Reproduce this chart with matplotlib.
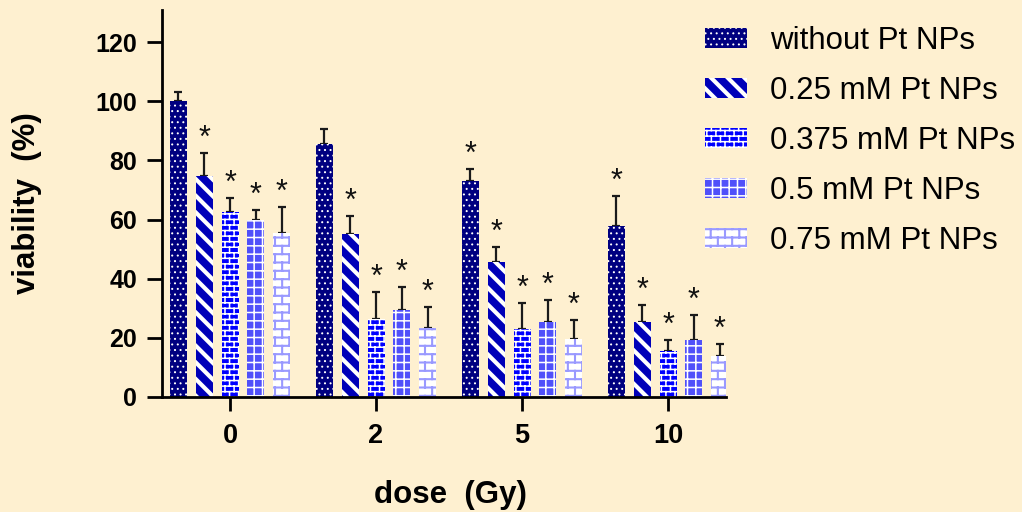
import numpy as np
import matplotlib
matplotlib.use("Agg")
import matplotlib.pyplot as plt
import matplotlib.hatch as mhatch
from matplotlib.path import Path

# ---------------- data ----------------
doses = ["0", "2", "5", "10"]
series_names = ["without Pt NPs", "0.25 mM Pt NPs", "0.375 mM Pt NPs",
                "0.5 mM Pt NPs", "0.75 mM Pt NPs"]
without_vals = [100.0, 85.6, 73.2, 58.0]
without_err = [3.3, 5.1, 4.0, 9.9]
pt025_vals = [74.9, 55.1, 45.6, 25.5]
pt025_err = [7.5, 6.1, 5.1, 5.5]
pt0375_vals = [62.5, 26.3, 22.9, 15.6]
pt0375_err = [4.9, 9.3, 8.8, 3.7]
pt05_vals = [59.9, 29.4, 25.5, 19.3]
pt05_err = [3.4, 7.7, 7.2, 8.5]
pt075_vals = [55.4, 23.2, 19.6, 14.0]
pt075_err = [8.8, 7.1, 6.3, 4.0]
# significance marks (True = '*')
without_sig = [False, False, True, True]
pt025_sig = [True, True, True, True]
pt0375_sig = [True, True, True, True]
pt05_sig = [True, True, True, True]
pt075_sig = [True, True, True, True]

values = [without_vals, pt025_vals, pt0375_vals, pt05_vals, pt075_vals]
errors = [without_err, pt025_err, pt0375_err, pt05_err, pt075_err]
sigs = [without_sig, pt025_sig, pt0375_sig, pt05_sig, pt075_sig]


# ---------------- custom brick hatch (replaces 'O') ----------------
class BrickHatch(mhatch.HatchPatternBase):
    def __init__(self, hatch, density):
        n = hatch.count('O') * density
        self.segs = []
        if n > 0:
            m = max(1, int(round(n / 1.7)))
            ys = (np.arange(n) + 0.5) / n
            for y in ys:
                self.segs.append(((0.0, y), (1.0, y)))
            for k in range(n):
                off = 0.5 if k % 2 else 0.0
                y0 = ys[k]
                y1 = ys[k] + 1.0 / n
                for j in range(m):
                    x = ((j + off + 0.25) / m) % 1.0
                    if y1 <= 1.0:
                        self.segs.append(((x, y0), (x, y1)))
                    else:
                        self.segs.append(((x, y0), (x, 1.0)))
                        self.segs.append(((x, 0.0), (x, y1 - 1.0)))
        self.num_vertices = 2 * len(self.segs)

    def set_vertices_and_codes(self, vertices, codes):
        for i, (a, b) in enumerate(self.segs):
            vertices[2 * i] = a
            vertices[2 * i + 1] = b
            codes[2 * i] = Path.MOVETO
            codes[2 * i + 1] = Path.LINETO


mhatch._hatch_types = [BrickHatch if t is mhatch.LargeCircles else t
                       for t in mhatch._hatch_types]


def use_hatch_lw(artist, lw):
    """Give one patch its own hatch line width."""
    if hasattr(artist, "set_hatch_linewidth"):
        artist.set_hatch_linewidth(lw)
    orig = artist.draw

    def draw(renderer, _orig=orig, _lw=lw):
        with plt.rc_context({"hatch.linewidth": _lw}):
            _orig(renderer)
    artist.draw = draw


# ---------------- style ----------------
bg = "#FEF0D0"
face_colors = ["#000080", "#0000B8", "#0000FF", "#5050FA", "#FFFFFF"]
hatch_colors = ["#FFFFFF", "#FFFFFF", "#FFFFFF", "#FFFFFF", "#9999FF"]
hatches = ["...", "\\\\", "OOO", "++", "OO"]
hatch_lws = [0.7, 3.0, 1.1, 1.1, 1.5]

plt.rcParams["font.family"] = ["Liberation Sans", "DejaVu Sans"]
plt.rcParams["hatch.linewidth"] = 1.1

fig = plt.figure(figsize=(10.22, 5.12), dpi=100, facecolor=bg)
ax = fig.add_axes([162 / 1022, 1 - 397 / 512, (726 - 162) / 1022, (397 - 10) / 512])
ax.set_facecolor(bg)

x = np.arange(len(doses))
step = 0.1774
width = 0.116

for i in range(len(series_names)):
    xi = x + (i - 2) * step
    with plt.rc_context({"hatch.linewidth": hatch_lws[i]}):
        bars = ax.bar(xi, values[i], width=width, color=face_colors[i],
                      edgecolor=hatch_colors[i], linewidth=0, hatch=hatches[i],
                      label=series_names[i], zorder=2)
    for b in bars:
        use_hatch_lw(b, hatch_lws[i])
    ax.errorbar(xi, values[i], yerr=[np.zeros(len(doses)), errors[i]],
                fmt="none", ecolor="#1a1a1a", elinewidth=1.6, capsize=3.2,
                capthick=1.6, zorder=1)
    for j in range(len(doses)):
        if sigs[i][j]:
            ax.annotate("*", (xi[j], values[i][j] + errors[i][j]),
                        xytext=(0, 4.5), textcoords="offset points",
                        ha="center", va="baseline", fontsize=22,
                        color="#111111")

ax.set_xlim(-0.466, 3.397)
ax.set_ylim(0, 130.9)
ax.set_yticks([0, 20, 40, 60, 80, 100, 120])
ax.set_xticks(x)
ax.set_xticklabels(doses)

for s in ["top", "right"]:
    ax.spines[s].set_visible(False)
for s in ["left", "bottom"]:
    ax.spines[s].set_linewidth(2.0)
    ax.spines[s].set_zorder(3)

ax.tick_params(axis="y", length=11, width=2.0, pad=7, labelsize=18)
ax.tick_params(axis="x", length=10, width=2.0, pad=9, labelsize=19.5)
for lab in ax.get_xticklabels() + ax.get_yticklabels():
    lab.set_fontweight("bold")

ax.set_ylabel("viability  (%)", fontsize=22.5, fontweight="bold")
ax.yaxis.set_label_coords(-0.213, 0.5)
ax.set_xlabel("dose  (Gy)", fontsize=22.5, fontweight="bold")
ax.xaxis.set_label_coords(0.512, -0.215)

with plt.rc_context({"hatch.linewidth": 1.1}):
    leg = fig.legend(loc="upper left", bbox_to_anchor=(705 / 1022, 1 - 26 / 512),
                     frameon=False, fontsize=22.5, handlelength=1.34,
                     handleheight=0.58, handletextpad=0.74, labelspacing=0.64,
                     borderpad=0, borderaxespad=0)
for h, lw in zip(leg.legend_handles, hatch_lws):
    use_hatch_lw(h, lw)

fig.savefig("out.png", dpi=100, facecolor=bg)
